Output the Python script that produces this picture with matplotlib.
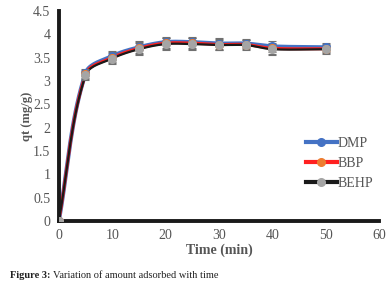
import numpy as np
import matplotlib.pyplot as plt

plt.rcParams['font.family'] = ['Liberation Serif', 'DejaVu Serif']

time_min = [0, 5, 10, 15, 20, 25, 30, 35, 40, 50]
dmp = [0, 3.16, 3.53, 3.72, 3.83, 3.83, 3.80, 3.80, 3.74, 3.72]
bbp = [0, 3.14, 3.50, 3.70, 3.81, 3.81, 3.78, 3.78, 3.70, 3.69]
behp = [0, 3.12, 3.48, 3.68, 3.79, 3.79, 3.77, 3.77, 3.68, 3.68]
err = [0, 0.1, 0.12, 0.13, 0.12, 0.12, 0.11, 0.1, 0.12, 0.1]


def smooth(x, y, sx=320 / 60, sy=210 / 4.5, n=20):
    # smoothed line like Excel's, tangents scaled by segment length (screen units)
    P = np.column_stack([np.array(x, float) * sx, np.array(y, float) * sy])
    P = np.vstack([P[:1], P, P[-1:]])
    out = []
    t = np.linspace(0, 1, n)[:, None]
    for i in range(1, len(P) - 2):
        p0, p1, p2, p3 = P[i - 1], P[i], P[i + 1], P[i + 2]
        seg = np.linalg.norm(p2 - p1)
        d1 = p2 - p0
        d2 = p3 - p1
        d1 = d1 / np.linalg.norm(d1)
        d2 = d2 / np.linalg.norm(d2)
        b1 = p1 + d1 * seg / 3
        b2 = p2 - d2 * seg / 3
        out.append((1 - t) ** 3 * p1 + 3 * (1 - t) ** 2 * t * b1
                   + 3 * (1 - t) * t ** 2 * b2 + t ** 3 * p2)
    out = np.vstack(out)
    return out[:, 0] / sx, out[:, 1] / sy


fig = plt.figure(figsize=(3.92, 2.88), dpi=100)
ax = fig.add_axes([0.15, 0.233, 0.817, 0.729])

series = [
    ("DMP", dmp, "#4472C4", "#4472C4", 3),
    ("BBP", bbp, "#FF2020", "#ED7D31", 2.2),
    ("BEHP", behp, "#1a1a1a", "#A5A5A5", 1.6),
]
handles = []
for name, vals, lc, mc, lw in series:
    sx, sy = smooth(time_min, vals)
    ax.plot(sx, sy, color=lc, lw=lw, zorder=2)
    ax.errorbar(time_min, vals, yerr=err, fmt='none', ecolor='#707070',
                elinewidth=0.8, capsize=3, capthick=0.8, zorder=3)
    ax.plot(time_min, vals, 'o', color=mc, ms=5.5, zorder=4)
    h, = ax.plot([], [], '-o', color=lc, mfc=mc, mec=mc, lw=3, ms=5.5)
    h.set_label(name)
    handles.append(h)

ax.set_xlim(0, 60)
ax.set_ylim(0, 4.5)
ax.set_xticks(range(0, 61, 10))
ax.set_yticks(np.arange(0, 4.6, 0.5))
ax.set_yticklabels(['0', '0.5', '1', '1.5', '2', '2.5', '3', '3.5', '4', '4.5'])
ax.tick_params(length=0, labelsize=10, labelcolor='#555555', pad=6)
for s in ['top', 'right']:
    ax.spines[s].set_visible(False)
for s in ['left', 'bottom']:
    ax.spines[s].set_linewidth(2.8)
    ax.spines[s].set_color('#1a1a1a')
ax.set_xlabel('Time (min)', fontsize=10, fontweight='bold', color='#555555', labelpad=1)
ax.set_ylabel('qt (mg/g)', fontsize=9, fontweight='bold', color='#555555', labelpad=0)

leg = ax.legend(handles=handles, loc='upper left', bbox_to_anchor=(0.772, 0.40),
                frameon=False, fontsize=10, handlelength=2.2, handletextpad=0.1,
                labelspacing=0.5, borderpad=0, borderaxespad=0)
for t in leg.get_texts():
    t.set_color('#555555')

fig.text(0.025, 0.035, 'Figure 3:', fontsize=7.5, fontweight='bold', color='#222222')
fig.text(0.135, 0.035, 'Variation of amount adsorbed with time', fontsize=7.5, color='#222222')

fig.savefig('out.png', dpi=100)
